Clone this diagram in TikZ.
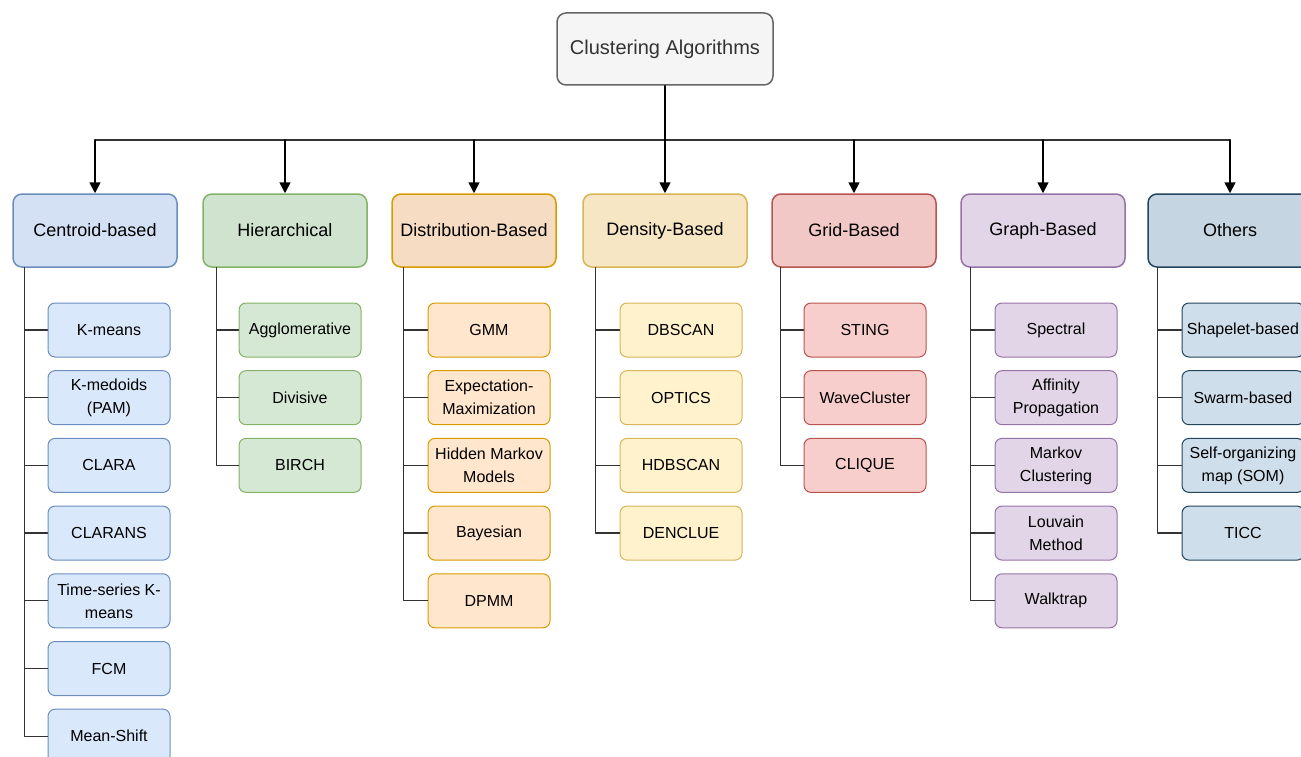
\documentclass[tikz,border=0pt]{standalone}
\usepackage{fontspec}
\setmainfont{Liberation Sans}
\usepackage{xcolor}
\usepackage{tikz}
\usetikzlibrary{arrows.meta}

\definecolor{rootF}{HTML}{F5F5F5}
\definecolor{rootD}{HTML}{666666}
\definecolor{rootT}{HTML}{333333}
\definecolor{centC}{HTML}{D4E1F5}
\definecolor{centL}{HTML}{DAE8FC}
\definecolor{centD}{HTML}{6C8EBF}
\definecolor{hierC}{HTML}{CFE3CE}
\definecolor{hierL}{HTML}{D5E8D4}
\definecolor{hierD}{HTML}{82B366}
\definecolor{distC}{HTML}{F6DCC2}
\definecolor{distL}{HTML}{FFE6CC}
\definecolor{distD}{HTML}{D79B00}
\definecolor{densC}{HTML}{F6E6C4}
\definecolor{densL}{HTML}{FFF2CC}
\definecolor{densD}{HTML}{D6B656}
\definecolor{gridC}{HTML}{F2C8C7}
\definecolor{gridL}{HTML}{F8CECC}
\definecolor{gridD}{HTML}{B85450}
\definecolor{graphC}{HTML}{E1D5E7}
\definecolor{graphL}{HTML}{E1D5E7}
\definecolor{graphD}{HTML}{9673A6}
\definecolor{othC}{HTML}{C5D5E2}
\definecolor{othL}{HTML}{CFDEEB}
\definecolor{othD}{HTML}{23445D}

\tikzset{
	rootbox/.style={draw=rootD, fill=rootF, text=rootT, rounded corners=9pt, line width=1.5pt,
		minimum width=216pt, minimum height=72pt, font=\fontsize{20}{24}\selectfont},
	cat/.style={rounded corners=9pt, line width=1.5pt, inner sep=1pt,
		minimum width=164pt, minimum height=73pt, font=\fontsize{18}{22}\selectfont},
	leaf/.style={rounded corners=7pt, line width=1pt, inner sep=2pt, align=center,
		minimum width=122pt, minimum height=54pt, font=\fontsize{16}{23}\selectfont},
	link/.style={line width=1.3pt, draw=black!80},
	arr/.style={line width=1.7pt, -{Triangle[length=11pt,width=11pt]}}
}

\begin{document}
\begin{tikzpicture}[x=1pt, y=-1pt, line cap=round, line join=round]
				\useasboundingbox (0,0) rectangle (1301,757);
				\node[rootbox] (root) at (665,49) {Clustering Algorithms};
				\node[cat, draw=centD, fill=centC] (cent) at (95,230.5) {Centroid-based};
				\node[cat, draw=hierD, fill=hierC] (hier) at (285,230.5) {Hierarchical};
				\node[cat, draw=distD, fill=distC] (dist) at (474,230.5) {Distribution-Based};
				\node[cat, draw=densD, fill=densC] (dens) at (665,230.5) {Density-Based};
				\node[cat, draw=gridD, fill=gridC] (grid) at (854,230.5) {Grid-Based};
				\node[cat, draw=graphD, fill=graphC] (graph) at (1043,230.5) {Graph-Based};
				\node[cat, draw=othD, fill=othC] (oth) at (1230,230.5) {Others};
				\coordinate (bus) at (665,140);
				\draw[link, line width=1.7pt] (cent.north |- bus) -- (oth.north |- bus);
				\draw[arr] (root) -- (dens);
				\foreach \c in {cent,hier,dist,grid,graph,oth}
					\draw[arr] (\c.north |- bus) -- (\c.north);
				\foreach \t [count=\i] in {K-means, {K-medoids\\(PAM)}, CLARA, CLARANS, {Time-series K-\\means}, FCM, Mean-Shift}{
					\node[leaf, draw=centD, fill=centL] (cent\i) at (109,{330+67.7*(\i-1)}) {\t};
					\draw[link] ([xshift=12pt]cent.south west) |- (cent\i.west);
				}
				\foreach \t [count=\i] in {Agglomerative, Divisive, BIRCH}{
					\node[leaf, draw=hierD, fill=hierL] (hier\i) at (300,{330+67.7*(\i-1)}) {\t};
					\draw[link] ([xshift=14pt]hier.south west) |- (hier\i.west);
				}
				\foreach \t [count=\i] in {GMM, {Expectation-\\Maximization}, {Hidden Markov\\Models}, Bayesian, DPMM}{
					\node[leaf, draw=distD, fill=distL] (dist\i) at (489,{330+67.7*(\i-1)}) {\t};
					\draw[link] ([xshift=12pt]dist.south west) |- (dist\i.west);
				}
				\foreach \t [count=\i] in {DBSCAN, OPTICS, HDBSCAN, DENCLUE}{
					\node[leaf, draw=densD, fill=densL] (dens\i) at (681,{330+67.7*(\i-1)}) {\t};
					\draw[link] ([xshift=13pt]dens.south west) |- (dens\i.west);
				}
				\foreach \t [count=\i] in {STING, WaveCluster, CLIQUE}{
					\node[leaf, draw=gridD, fill=gridL] (grid\i) at (865,{330+67.7*(\i-1)}) {\t};
					\draw[link] ([xshift=9pt]grid.south west) |- (grid\i.west);
				}
				\foreach \t [count=\i] in {Spectral, {Affinity\\Propagation}, {Markov\\Clustering}, {Louvain\\Method}, Walktrap}{
					\node[leaf, draw=graphD, fill=graphL] (graph\i) at (1056,{330+67.7*(\i-1)}) {\t};
					\draw[link] ([xshift=10pt]graph.south west) |- (graph\i.west);
				}
				\foreach \t [count=\i] in {Shapelet-based, Swarm-based, {Self-organizing\\map (SOM)}, TICC}{
					\node[leaf, draw=othD, fill=othL] (oth\i) at (1243,{330+67.7*(\i-1)}) {\t};
					\draw[link] ([xshift=10pt]oth.south west) |- (oth\i.west);
				}
			\end{tikzpicture}
\end{document}
